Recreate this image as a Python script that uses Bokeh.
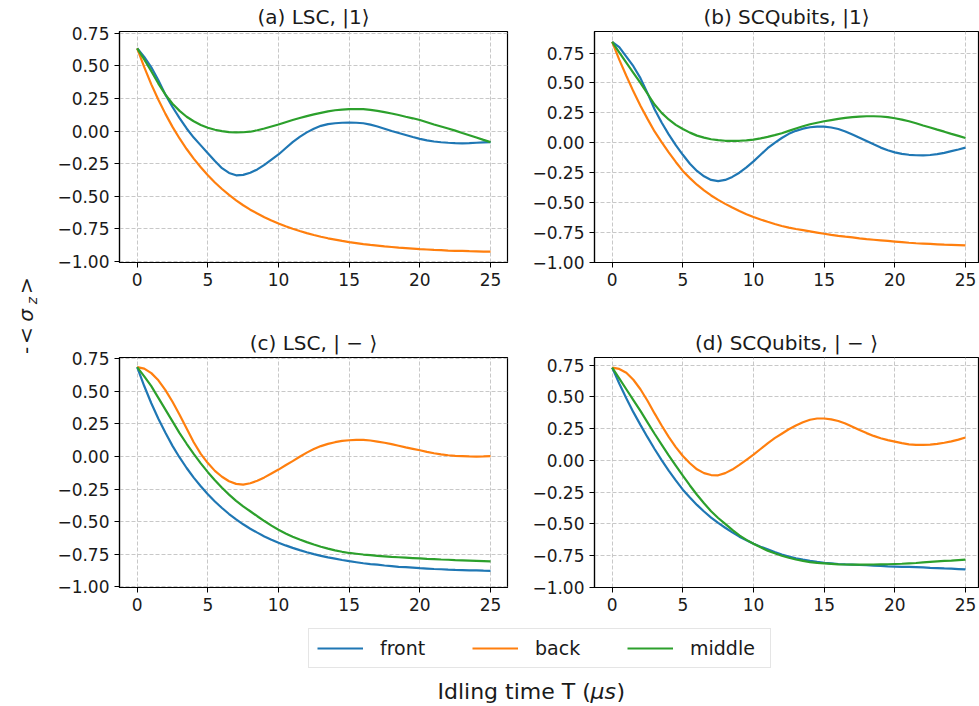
import math
from bokeh.plotting import figure
from bokeh.models import (Range1d, FixedTicker, Label, Legend, LegendItem, ColumnDataSource)
from bokeh.layouts import row, column
from bokeh.embed import file_html
from bokeh.resources import INLINE

# ---------------- data (idling time in steps of 0.5 us) ----------------
T = [0.0, 0.5, 1.0, 1.5, 2.0, 2.5, 3.0, 3.5, 4.0, 4.5, 5.0, 5.5, 6.0, 6.5, 7.0, 7.5, 8.0, 8.5,
     9.0, 9.5, 10.0, 10.5, 11.0, 11.5, 12.0, 12.5, 13.0, 13.5, 14.0, 14.5, 15.0, 15.5, 16.0,
     16.5, 17.0, 17.5, 18.0, 18.5, 19.0, 19.5, 20.0, 20.5, 21.0, 21.5, 22.0, 22.5, 23.0, 23.5,
     24.0, 24.5, 25.0]

a_front = [0.636, 0.57, 0.49, 0.39, 0.28, 0.185, 0.10, 0.02, -0.05, -0.11, -0.17, -0.23, -0.285,
           -0.322, -0.34, -0.337, -0.32, -0.295, -0.26, -0.22, -0.18, -0.132, -0.085, -0.045,
           -0.01, 0.018, 0.04, 0.053, 0.06, 0.064, 0.065, 0.064, 0.06, 0.049, 0.035, 0.018, 0.0,
           -0.015, -0.03, -0.046, -0.06, -0.071, -0.08, -0.086, -0.09, -0.093, -0.095, -0.093,
           -0.09, -0.087, -0.085]
a_back = [0.636, 0.491, 0.359, 0.240, 0.132, 0.032, -0.057, -0.138, -0.212, -0.278, -0.340, -0.395,
          -0.445, -0.491, -0.532, -0.570, -0.604, -0.634, -0.663, -0.688, -0.711, -0.732, -0.751,
          -0.768, -0.784, -0.799, -0.812, -0.824, -0.834, -0.844, -0.853, -0.861, -0.869, -0.875,
          -0.880, -0.886, -0.891, -0.896, -0.899, -0.903, -0.907, -0.910, -0.913, -0.915, -0.918,
          -0.920, -0.921, -0.923, -0.924, -0.926, -0.927]
a_middle = [0.636, 0.55, 0.46, 0.365, 0.28, 0.21, 0.155, 0.11, 0.075, 0.047, 0.025, 0.01, 0.0,
            -0.008, -0.01, -0.009, -0.005, 0.006, 0.02, 0.035, 0.05, 0.068, 0.085, 0.10, 0.115,
            0.128, 0.14, 0.151, 0.16, 0.165, 0.168, 0.169, 0.168, 0.163, 0.155, 0.146, 0.135,
            0.123, 0.11, 0.098, 0.085, 0.068, 0.05, 0.035, 0.02, 0.003, -0.015, -0.032, -0.05,
            -0.068, -0.085]

b_front = [0.843, 0.80, 0.72, 0.64, 0.54, 0.415, 0.28, 0.17, 0.07, -0.02, -0.10, -0.175, -0.235,
           -0.28, -0.31, -0.32, -0.31, -0.285, -0.25, -0.205, -0.155, -0.10, -0.045, 0.0, 0.04,
           0.075, 0.10, 0.118, 0.13, 0.135, 0.135, 0.128, 0.115, 0.095, 0.07, 0.043, 0.015,
           -0.013, -0.04, -0.062, -0.08, -0.093, -0.10, -0.104, -0.105, -0.102, -0.095, -0.084,
           -0.07, -0.056, -0.04]
b_back = [0.843, 0.695, 0.56, 0.43, 0.31, 0.20, 0.095, 0.005, -0.08, -0.16, -0.235, -0.295, -0.35,
          -0.398, -0.44, -0.477, -0.51, -0.541, -0.57, -0.596, -0.62, -0.641, -0.66, -0.678,
          -0.695, -0.708, -0.72, -0.73, -0.74, -0.75, -0.76, -0.769, -0.777, -0.784, -0.79,
          -0.798, -0.805, -0.81, -0.815, -0.82, -0.825, -0.83, -0.835, -0.839, -0.842, -0.845,
          -0.848, -0.851, -0.853, -0.855, -0.857]
b_middle = [0.843, 0.755, 0.67, 0.585, 0.50, 0.41, 0.32, 0.25, 0.195, 0.15, 0.115, 0.085, 0.06,
            0.043, 0.03, 0.022, 0.017, 0.016, 0.017, 0.021, 0.027, 0.037, 0.05, 0.064, 0.08, 0.10,
            0.12, 0.138, 0.155, 0.168, 0.18, 0.19, 0.20, 0.208, 0.215, 0.219, 0.222, 0.222, 0.22,
            0.214, 0.205, 0.194, 0.18, 0.163, 0.145, 0.128, 0.11, 0.093, 0.075, 0.058, 0.04]

c_front = [0.686, 0.541, 0.409, 0.290, 0.182, 0.082, -0.007, -0.088, -0.162, -0.228, -0.29, -0.345,
           -0.395, -0.441, -0.482, -0.52, -0.554, -0.584, -0.613, -0.638, -0.661, -0.682, -0.701,
           -0.718, -0.734, -0.749, -0.762, -0.774, -0.784, -0.794, -0.803, -0.811, -0.819,
           -0.825, -0.83, -0.836, -0.841, -0.846, -0.849, -0.853, -0.857, -0.86, -0.863, -0.865,
           -0.868, -0.87, -0.871, -0.873, -0.874, -0.876, -0.877]
c_back = [0.686, 0.675, 0.64, 0.585, 0.51, 0.42, 0.32, 0.215, 0.11, 0.02, -0.05, -0.11, -0.155,
          -0.19, -0.21, -0.215, -0.205, -0.186, -0.16, -0.13, -0.10, -0.067, -0.035, -0.002, 0.03,
          0.057, 0.08, 0.097, 0.11, 0.12, 0.125, 0.128, 0.128, 0.123, 0.115, 0.106, 0.095, 0.083,
          0.07, 0.059, 0.048, 0.036, 0.025, 0.016, 0.01, 0.005, 0.003, 0.001, 0.0, 0.001, 0.003]
c_middle = [0.686, 0.615, 0.54, 0.45, 0.36, 0.27, 0.18, 0.098, 0.02, -0.052, -0.12, -0.182, -0.24,
            -0.292, -0.34, -0.382, -0.42, -0.458, -0.495, -0.53, -0.562, -0.59, -0.615, -0.637,
            -0.657, -0.675, -0.692, -0.707, -0.72, -0.731, -0.74, -0.746, -0.752, -0.757, -0.762,
            -0.766, -0.77, -0.773, -0.776, -0.779, -0.782, -0.785, -0.787, -0.79, -0.792, -0.795,
            -0.797, -0.799, -0.801, -0.803, -0.805]

d_front = [0.73, 0.605, 0.49, 0.38, 0.28, 0.183, 0.09, 0.003, -0.08, -0.157, -0.23, -0.292, -0.35,
           -0.402, -0.45, -0.492, -0.53, -0.566, -0.60, -0.628, -0.655, -0.679, -0.70, -0.721,
           -0.74, -0.756, -0.77, -0.781, -0.79, -0.798, -0.805, -0.81, -0.815, -0.818, -0.82,
           -0.823, -0.825, -0.828, -0.83, -0.833, -0.835, -0.837, -0.838, -0.84, -0.842, -0.845,
           -0.847, -0.85, -0.852, -0.855, -0.858]
d_back = [0.73, 0.72, 0.69, 0.635, 0.56, 0.47, 0.37, 0.275, 0.185, 0.105, 0.035, -0.022, -0.07,
          -0.10, -0.115, -0.117, -0.10, -0.072, -0.035, 0.005, 0.045, 0.09, 0.135, 0.175, 0.21,
          0.245, 0.275, 0.30, 0.32, 0.33, 0.33, 0.323, 0.31, 0.29, 0.265, 0.24, 0.215, 0.193,
          0.175, 0.16, 0.148, 0.136, 0.127, 0.123, 0.122, 0.125, 0.13, 0.139, 0.15, 0.164, 0.18]
d_middle = [0.73, 0.645, 0.56, 0.475, 0.39, 0.30, 0.21, 0.125, 0.04, -0.04, -0.12, -0.197, -0.27,
            -0.337, -0.40, -0.453, -0.50, -0.547, -0.59, -0.625, -0.655, -0.684, -0.71, -0.731,
            -0.75, -0.766, -0.78, -0.791, -0.80, -0.806, -0.81, -0.814, -0.818, -0.819, -0.82,
            -0.82, -0.82, -0.819, -0.818, -0.817, -0.815, -0.813, -0.81, -0.807, -0.803, -0.799,
            -0.795, -0.791, -0.788, -0.784, -0.78]

series_names = ["front", "back", "middle"]
series_colors = ["#1f77b4", "#ff7f0e", "#2ca02c"]
titles = ["(a) LSC, |1⟩", "(b) SCQubits, |1⟩", "(c) LSC, | − ⟩", "(d) SCQubits, | − ⟩"]
x_ticks = [0, 5, 10, 15, 20, 25]
y_ticks = [-1.0, -0.75, -0.5, -0.25, 0.0, 0.25, 0.5, 0.75]
y_tick_labels = ["−1.00", "−0.75", "−0.50", "−0.25", "0.00", "0.25", "0.50", "0.75"]

FONT = "DejaVu Sans"
TXT = "#1a1a1a"


def panel(title, data, width, height, mb, xr, yr, title_offset=0):
    p = figure(width=width, height=height, output_backend="svg", toolbar_location=None,
               x_range=Range1d(*xr), y_range=Range1d(*yr),
               min_border_left=mb[0], min_border_right=mb[1],
               min_border_top=mb[2], min_border_bottom=mb[3])
    p.title.text = title
    p.title.align = "center"
    p.title.text_font = FONT
    p.title.text_font_size = "20px"
    p.title.text_font_style = "normal"
    p.title.text_color = TXT
    p.title.standoff = 5
    p.title.offset = title_offset
    p.outline_line_color = "black"
    p.outline_line_width = 1.2
    p.background_fill_color = "white"
    p.border_fill_color = "white"
    p.xaxis.ticker = FixedTicker(ticks=x_ticks, minor_ticks=[])
    p.yaxis.ticker = FixedTicker(ticks=y_ticks, minor_ticks=[])
    p.yaxis.major_label_overrides = {v: s for v, s in zip(y_ticks, y_tick_labels)}
    for ax in (p.xaxis, p.yaxis):
        ax.major_label_text_font = FONT
        ax.major_label_text_font_size = "17px"
        ax.major_label_text_color = TXT
        ax.major_tick_out = 5
        ax.major_tick_in = 0
        ax.major_tick_line_color = "black"
        ax.axis_line_color = "black"
        ax.axis_line_width = 1.2
        ax.major_label_standoff = 5
    p.grid.grid_line_color = "#c8c8c8"
    p.grid.grid_line_dash = "4 2"
    p.grid.grid_line_width = 1
    for ys, c in zip(data, series_colors):
        p.line(T, ys, line_color=c, line_width=2.2)
    return p


pa = panel(titles[0], [a_front, a_back, a_middle], 477, 324, (79, 10, 29, 62),
           (-1.25, 26.2), (-1.01, 0.765))
pb = panel(titles[1], [b_front, b_back, b_middle], 462, 324, (77, 1, 29, 62),
           (-1.25, 25.92), (-1.0, 0.93), title_offset=3)
pc = panel(titles[2], [c_front, c_back, c_middle], 477, 300, (79, 10, 30, 37),
           (-1.25, 26.2), (-1.005, 0.76))
pd = panel(titles[3], [d_front, d_back, d_middle], 462, 300, (77, 1, 33, 34),
           (-1.25, 25.92), (-1.0, 0.81), title_offset=3)

# y label column
ylab = figure(width=40, height=624, output_backend="svg", toolbar_location=None,
              x_range=Range1d(0, 1), y_range=Range1d(0, 1),
              x_axis_location=None, y_axis_location=None, min_border=0)
ylab.outline_line_color = None
ylab.grid.visible = False
H = 624


def ylabel_piece(txt, xpix, ycenter, size, style="normal"):
    ylab.add_layout(Label(x=xpix, y=H - ycenter, x_units="screen", y_units="screen", text=txt,
                          angle=math.pi / 2, text_align="center", text_baseline="alphabetic",
                          text_font=FONT, text_font_size=size, text_font_style=style,
                          text_color=TXT))


ylabel_piece("-", 25, 350, "20px")
ylabel_piece("<", 25, 335, "20px")
ylabel_piece("σ", 25, 315, "20px", "italic")
ylabel_piece("z", 31, 300, "14px", "italic")
ylabel_piece(">", 25, 285, "20px")

# bottom: legend and x label
bot = figure(width=979, height=82, output_backend="svg", toolbar_location=None,
             x_range=Range1d(0, 1), y_range=Range1d(0, 1),
             x_axis_location=None, y_axis_location=None, min_border=0)
bot.outline_line_color = None
bot.grid.visible = False
items = []
for name, c in zip(series_names, series_colors):
    # legend proxy: data lies outside the visible range of this strip
    r = bot.line(x="x", y="y", source=ColumnDataSource(dict(x=[5, 6], y=[5, 6])),
                 line_color=c, line_width=2.2)
    items.append(LegendItem(label=name, renderers=[r]))
leg = Legend(items=items, orientation="horizontal", location=(308, 38),
             label_text_font=FONT, label_text_font_size="19px", label_text_color=TXT,
             glyph_width=46, glyph_height=20, label_standoff=17, label_width=72, spacing=20,
             padding=8, margin=0, border_line_color="#cccccc", border_line_width=1,
             background_fill_color="white", background_fill_alpha=0.8)
bot.add_layout(leg)

xl_base = 15
xl_start = 437
bot.add_layout(Label(x=xl_start, y=xl_base, x_units="screen", y_units="screen",
                     text="Idling time T (", text_font=FONT, text_font_size="22px",
                     text_color=TXT, text_align="left", text_baseline="alphabetic"))
bot.add_layout(Label(x=xl_start + 153, y=xl_base, x_units="screen", y_units="screen",
                     text="μs", text_font=FONT, text_font_size="22px", text_font_style="italic",
                     text_color=TXT, text_align="left", text_baseline="alphabetic"))
bot.add_layout(Label(x=xl_start + 179, y=xl_base, x_units="screen", y_units="screen",
                     text=")", text_font=FONT, text_font_size="22px",
                     text_color=TXT, text_align="left", text_baseline="alphabetic"))

layout = column(row(ylab, column(row(pa, pb), row(pc, pd))), bot)

open("out.html", "w").write(file_html(layout, INLINE))
